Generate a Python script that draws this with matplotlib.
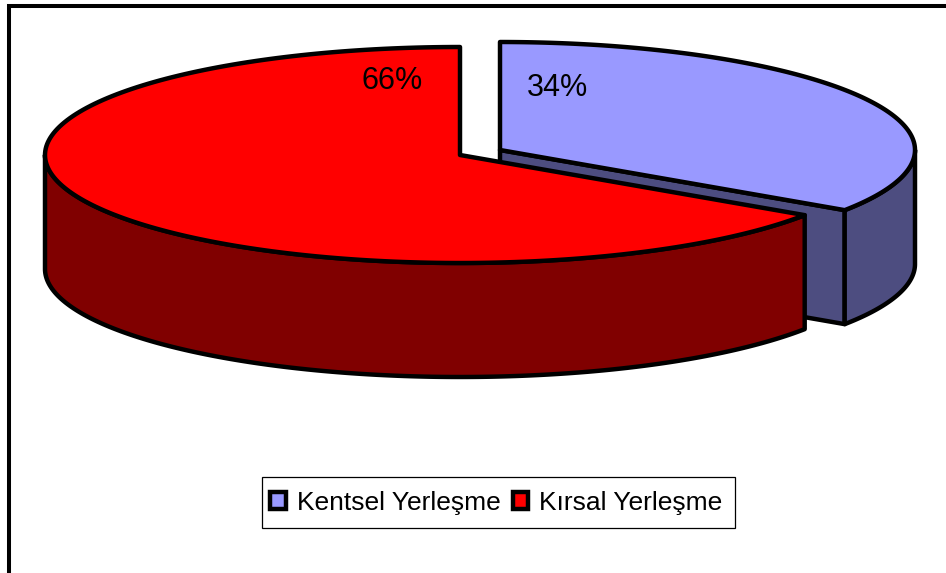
import numpy as np
import matplotlib
matplotlib.use('Agg')
import matplotlib.pyplot as plt
from matplotlib.patches import Patch, Polygon, Rectangle

# data
categories = ['Kentsel Yerleşme', 'Kırsal Yerleşme']
values = [34.4, 65.6]
top_colors = ['#9999FF', '#FF0000']
side_colors = ['#4D4D80', '#800000']

plt.rcParams['font.family'] = ['Liberation Sans', 'DejaVu Sans']

# pie geometry in pixels
rx, ry = 415, 108
depth = 114
centers = [(500, 150), (460, 155)]
lw = 3.2


def arc(c, a0, a1, n=200, dy=0):
    t = np.radians(np.linspace(a0, a1, n))
    return np.column_stack([c[0] + rx*np.cos(t), c[1] + ry*np.sin(t) + dy])


def poly(ax, pts, col, z):
    ax.add_patch(Polygon(pts, closed=True, fc=col, ec='black', lw=lw, joinstyle='round', zorder=z))


fig = plt.figure(figsize=(9.46, 5.73), dpi=100)
ax = fig.add_axes([0, 0, 1, 1])
ax.set_xlim(0, 946)
ax.set_ylim(573, 0)
ax.axis('off')

# y points down here, so the angles run clockwise from 12 o'clock = -90
split = -90 + 360*values[0]/sum(values)

# blue slice
c = centers[0]
edge = arc(c, split, -90, 2)
corner = edge[0]
poly(ax, [c, corner, corner + [0, depth], (c[0], c[1] + depth)], side_colors[0], 1)
outer = arc(c, 0, split)
poly(ax, np.vstack([outer, (outer + [0, depth])[::-1]]), side_colors[0], 2)
poly(ax, np.vstack([[c], arc(c, -90, split)]), top_colors[0], 3)

# red slice
c = centers[1]
outer = arc(c, split, 180)
poly(ax, np.vstack([outer, (outer + [0, depth])[::-1]]), side_colors[1], 4)
poly(ax, np.vstack([[c], arc(c, split, 270)]), top_colors[1], 5)

# labels
ax.text(557, 88, f'{values[0]:.0f}%', ha='center', va='center', fontsize=22, zorder=6)
ax.text(392, 81, f'{values[1]:.0f}%', ha='center', va='center', fontsize=22, zorder=6)

# chart border, only left and top are inside the image
ax.plot([9, 9, 946], [573, 6, 6], color='black', lw=2.9, solid_joinstyle='miter', zorder=0)

# legend box
ax.add_patch(Rectangle((261.5, 477), 473.5, 51, fc='white', ec='black', lw=0.9, zorder=7))
handles = [Patch(fc=top_colors[i], ec='black', lw=lw, label=categories[i]) for i in range(2)]
leg = ax.legend(handles=handles, ncol=2, loc='center', bbox_to_anchor=(496.5/946, 1 - 503/573),
                fontsize=19, frameon=False,
                handlelength=0.58, handleheight=0.58, handletextpad=0.42, columnspacing=0.48,
                borderpad=0, borderaxespad=0)
leg.set_zorder(8)

fig.savefig('out.png', dpi=100)
